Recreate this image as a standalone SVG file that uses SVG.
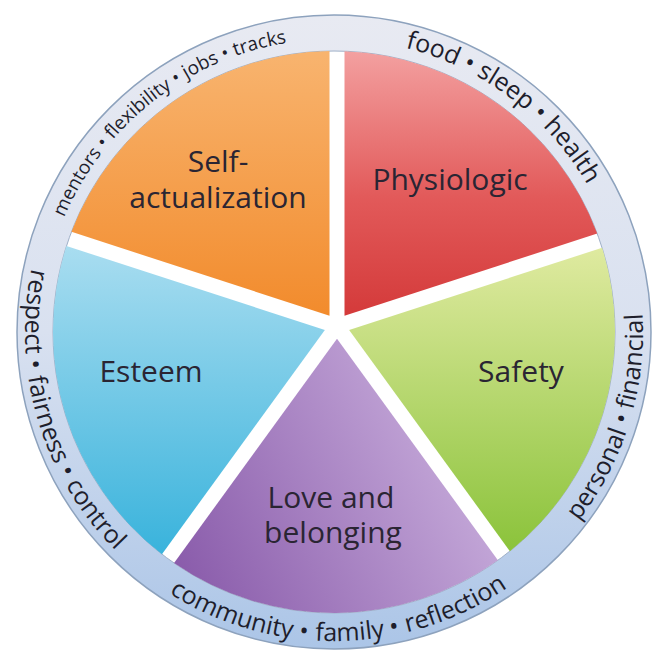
<svg xmlns="http://www.w3.org/2000/svg" width="652" height="655" viewBox="0 0 652 655">
  <defs>
    <linearGradient id="gRing" gradientUnits="userSpaceOnUse" x1="0" y1="15" x2="0" y2="650">
      <stop offset="0" stop-color="#e8eaf2"/>
      <stop offset="0.5" stop-color="#d9e1f0"/>
      <stop offset="1" stop-color="#abc5e7"/>
    </linearGradient>
    <linearGradient id="gSelf" gradientUnits="userSpaceOnUse" x1="0" y1="51" x2="0" y2="316">
      <stop offset="0" stop-color="#f8b46f"/>
      <stop offset="1" stop-color="#f28b2c"/>
    </linearGradient>
    <linearGradient id="gPhys" gradientUnits="userSpaceOnUse" x1="0" y1="51" x2="0" y2="316">
      <stop offset="0" stop-color="#f3a0a0"/>
      <stop offset="0.55" stop-color="#e25a5a"/>
      <stop offset="1" stop-color="#d43a3a"/>
    </linearGradient>
    <linearGradient id="gSafe" gradientUnits="userSpaceOnUse" x1="0" y1="248" x2="0" y2="551">
      <stop offset="0" stop-color="#dfeaa0"/>
      <stop offset="1" stop-color="#8bc33b"/>
    </linearGradient>
    <linearGradient id="gLove" gradientUnits="userSpaceOnUse" x1="174" y1="560" x2="500" y2="400">
      <stop offset="0" stop-color="#8a5cab"/>
      <stop offset="1" stop-color="#cfb6e1"/>
    </linearGradient>
    <linearGradient id="gEst" gradientUnits="userSpaceOnUse" x1="0" y1="246" x2="0" y2="554">
      <stop offset="0" stop-color="#a9ddf0"/>
      <stop offset="1" stop-color="#39b3dc"/>
    </linearGradient>
    <!-- baseline arcs for the ring captions: clockwise over the top, counter-clockwise under the bottom -->
    <path id="arcTop" d="M 41 332 A 293 293 0 0 1 627 332"/>
    <path id="arcBottom" d="M 66.4 177.5 A 309 309 0 0 0 334 641 A 309 309 0 0 0 601.6 177.5"/>
    <style>
      .label { font-family: "Open Sans", "Liberation Sans", sans-serif; font-size: 30px; fill: #2a2533; text-anchor: middle; }
      .ring  { font-family: "Open Sans", "Liberation Sans", sans-serif; font-size: 25px; fill: #1e1e2c; text-anchor: middle; }
      .ring.small { font-size: 19px; }
    </style>
  </defs>

  <!-- outer ring -->
  <g id="ring">
    <circle cx="334" cy="332" r="317" fill="url(#gRing)" stroke="#8da2bd" stroke-width="1.5"/>
    <circle cx="334" cy="332" r="281" fill="#ffffff" stroke="#9fb0c8" stroke-width="1"/>
  </g>

  <g id="self-actualization">
    <path d="M 329.5 315.68 L 71.45 231.84 A 281 281 0 0 1 329.5 51.04 Z" fill="url(#gSelf)"/>
    <text class="label" x="218" y="172">Self-</text>
    <text class="label" x="218" y="208">actualization</text>
    <text class="ring small"><textPath href="#arcTop" startOffset="155">mentors</textPath></text>
    <text class="ring small"><textPath href="#arcTop" startOffset="201">•</textPath></text>
    <text class="ring small"><textPath href="#arcTop" startOffset="249">flexibility</textPath></text>
    <text class="ring small"><textPath href="#arcTop" startOffset="297">•</textPath></text>
    <text class="ring small"><textPath href="#arcTop" startOffset="324">jobs</textPath></text>
    <text class="ring small"><textPath href="#arcTop" startOffset="351">•</textPath></text>
    <text class="ring small"><textPath href="#arcTop" startOffset="386">tracks</textPath></text>
  </g>

  <g id="physiologic">
    <path d="M 344.5 315.68 L 344.5 51.2 A 281 281 0 0 1 597.21 233.58 Z" fill="url(#gPhys)"/>
    <text class="label" x="450" y="190">Physiologic</text>
    <text class="ring"><textPath href="#arcTop" startOffset="559">food</textPath></text>
    <text class="ring"><textPath href="#arcTop" startOffset="597">•</textPath></text>
    <text class="ring"><textPath href="#arcTop" startOffset="639">sleep</textPath></text>
    <text class="ring"><textPath href="#arcTop" startOffset="681">•</textPath></text>
    <text class="ring"><textPath href="#arcTop" startOffset="729">health</textPath></text>
  </g>

  <g id="safety">
    <path d="M 349.14 329.94 L 602.08 247.76 A 281 281 0 0 1 509.87 551.16 Z" fill="url(#gSafe)"/>
    <text class="label" x="521" y="382">Safety</text>
    <text class="ring"><textPath href="#arcBottom" startOffset="980">personal</textPath></text>
    <text class="ring"><textPath href="#arcBottom" startOffset="1042">•</textPath></text>
    <text class="ring"><textPath href="#arcBottom" startOffset="1102">financial</textPath></text>
  </g>

  <g id="love-and-belonging">
    <path d="M 337 338.76 L 497.92 560.24 A 281 281 0 0 1 174.05 563.03 Z" fill="url(#gLove)"/>
    <text class="label" x="331" y="508">Love and</text>
    <text class="label" x="333" y="543">belonging</text>
    <text class="ring"><textPath href="#arcBottom" startOffset="539">community</textPath></text>
    <text class="ring"><textPath href="#arcBottom" startOffset="616">•</textPath></text>
    <text class="ring"><textPath href="#arcBottom" startOffset="663">family</textPath></text>
    <text class="ring"><textPath href="#arcBottom" startOffset="709">•</textPath></text>
    <text class="ring"><textPath href="#arcBottom" startOffset="776">reflection</textPath></text>
  </g>

  <g id="esteem">
    <path d="M 324.86 329.94 L 161.94 554.17 A 281 281 0 0 1 66.47 245.99 Z" fill="url(#gEst)"/>
    <text class="label" x="151" y="382">Esteem</text>
    <text class="ring"><textPath href="#arcBottom" startOffset="141">respect</textPath></text>
    <text class="ring"><textPath href="#arcBottom" startOffset="195">•</textPath></text>
    <text class="ring"><textPath href="#arcBottom" startOffset="253">fairness</textPath></text>
    <text class="ring"><textPath href="#arcBottom" startOffset="310">•</textPath></text>
    <text class="ring"><textPath href="#arcBottom" startOffset="363">control</textPath></text>
  </g>
</svg>
